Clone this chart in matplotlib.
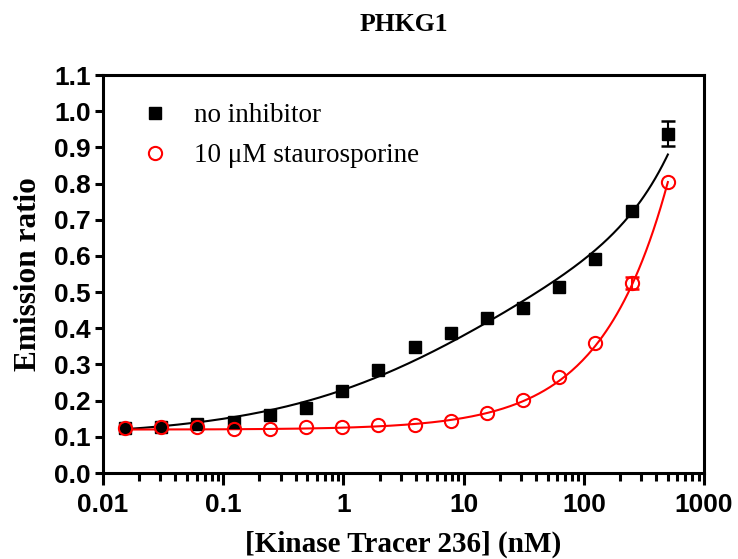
import numpy as np
import matplotlib
matplotlib.use("Agg")
import matplotlib.pyplot as plt
from matplotlib.ticker import FixedLocator, LogLocator, NullFormatter

# tracer concentrations (nM), 2-fold dilution series
conc = [0.0153, 0.0305, 0.061, 0.122, 0.244, 0.488, 0.977, 1.95, 3.91,
        7.81, 15.6, 31.25, 62.5, 125, 250, 500]

# emission ratio, no inhibitor
no_inh = [0.125, 0.128, 0.135, 0.140, 0.160, 0.180, 0.226, 0.285, 0.347,
          0.386, 0.428, 0.457, 0.513, 0.592, 0.725, 0.938]
no_inh_err = [0, 0, 0, 0, 0, 0, 0, 0, 0, 0, 0, 0, 0, 0, 0, 0.035]

# emission ratio, 10 uM staurosporine
stauro = [0.125, 0.127, 0.127, 0.122, 0.122, 0.128, 0.127, 0.133, 0.133,
          0.143, 0.165, 0.202, 0.265, 0.360, 0.526, 0.805]
stauro_err = [0, 0, 0, 0, 0, 0, 0, 0, 0, 0, 0, 0, 0, 0, 0.017, 0]

# fitted curve parameters
# no inhibitor: bottom + span * x^h / (K^h + x^h) + ns * x
FIT_BLACK = dict(bottom=0.10, span=0.62, K=16.0, h=0.48, ns=0.00052)
# staurosporine: bottom + a * x^p
FIT_RED = dict(bottom=0.120, a=0.00537, p=0.78)

SERIF = "Liberation Serif"
SANS = "Liberation Sans"

fig = plt.figure(figsize=(7.38, 5.59), dpi=100)
ax = fig.add_axes([0.1396, 0.1538, 0.8144, 0.712])

xs = np.logspace(np.log10(conc[0]), np.log10(conc[-1]), 300)
fb = FIT_BLACK
yb = fb["bottom"] + fb["span"] * xs ** fb["h"] / (fb["K"] ** fb["h"] + xs ** fb["h"]) + fb["ns"] * xs
fr = FIT_RED
yr = fr["bottom"] + fr["a"] * xs ** fr["p"]
ax.plot(xs, yb, color="black", lw=1.5, zorder=2)
ax.plot(xs, yr, color="red", lw=1.5, zorder=2)


def err_subset(x, y, e):
    idx = [i for i, v in enumerate(e) if v > 0]
    return [x[i] for i in idx], [y[i] for i in idx], [e[i] for i in idx]


ex, ey, ee = err_subset(conc, no_inh, no_inh_err)
ax.errorbar(ex, ey, yerr=ee, fmt="none", ecolor="black", capsize=5,
            elinewidth=1.5, capthick=1.8, zorder=3)
ex, ey, ee = err_subset(conc, stauro, stauro_err)
ax.errorbar(ex, ey, yerr=ee, fmt="none", ecolor="red", capsize=5,
            elinewidth=1.5, capthick=1.8, zorder=4)

ax.plot(conc, no_inh, "s", color="black", ms=9, ls="none",
        label="no inhibitor", zorder=3)
ax.plot(conc, stauro, "o", color="red", mfc="none", mew=1.5, ms=9.5,
        ls="none", label="10 \u03bcM staurosporine", zorder=4)

ax.set_xscale("log")
ax.set_xlim(0.01, 1000)
ax.set_ylim(0, 1.1)

ax.xaxis.set_major_locator(FixedLocator([0.01, 0.1, 1, 10, 100, 1000]))
ax.set_xticklabels(["0.01", "0.1", "1", "10", "100", "1000"])
ax.xaxis.set_minor_locator(LogLocator(base=10, subs=np.arange(2, 10), numticks=20))
ax.xaxis.set_minor_formatter(NullFormatter())
ax.set_yticks(np.arange(0, 1.11, 0.1))
ax.set_yticklabels([f"{v:.1f}" for v in np.arange(0, 1.11, 0.1)])

for lab in ax.get_xticklabels() + ax.get_yticklabels():
    lab.set_fontfamily(SANS)
    lab.set_fontweight("bold")
    lab.set_fontsize(19)

for s in ax.spines.values():
    s.set_linewidth(2.2)
ax.tick_params(axis="y", which="major", width=2.2, length=6, direction="out", pad=3)
ax.tick_params(axis="x", which="major", width=2.2, length=8.5, direction="out", pad=6)
ax.tick_params(axis="x", which="minor", width=2.2, length=5.5, direction="out")

ax.set_title("PHKG1", fontfamily=SERIF, fontweight="bold", fontsize=18.5, pad=32)
ax.set_xlabel("[Kinase Tracer 236] (nM)", fontfamily=SERIF, fontweight="bold",
              fontsize=21, labelpad=10)
ax.set_ylabel("Emission ratio", fontfamily=SERIF, fontweight="bold",
              fontsize=22.5, labelpad=8)

handles, labels = ax.get_legend_handles_labels()
leg = ax.legend(handles, labels, loc="upper left", bbox_to_anchor=(0.028, 0.99),
                frameon=False, prop={"family": SERIF, "size": 19.5},
                handlelength=0.8, handletextpad=1.05, labelspacing=0.55)

fig.savefig("out.png", dpi=100)
